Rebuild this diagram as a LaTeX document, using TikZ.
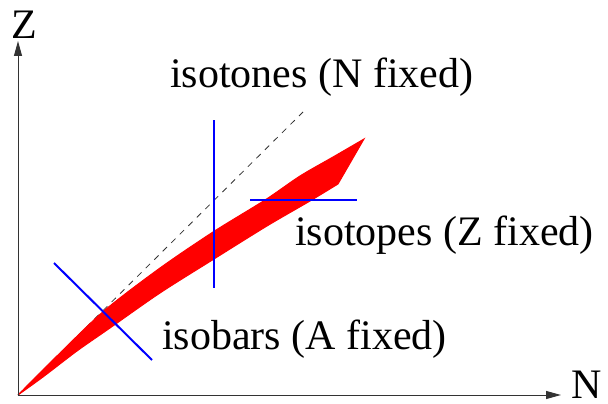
\documentclass[tikz,border=0pt]{standalone}
\usepackage{fontspec}
\setmainfont{Liberation Serif}
\usetikzlibrary{arrows.meta}
\begin{document}
\begin{tikzpicture}[x=1pt,y=-1pt,
  axis/.style={draw=black!80,line width=1pt,-{Triangle[length=15pt,width=8pt]}},
  label/.style={anchor=base west,inner sep=0pt,font=\fontsize{42}{48}\selectfont},
  fixline/.style={draw=blue,line width=2pt},
  nzline/.style={draw=black!80,line width=0.8pt,dash pattern=on 6pt off 6pt},
  band/.style={fill=red,draw=red,line width=1pt}]
\useasboundingbox (0,0) rectangle (608,404);
\coordinate (origin) at (18,395);
\coordinate (ztip) at (18,41);
\coordinate (ntip) at (561,395);
\coordinate (nzend) at (303,112);
% N = Z line
\draw[nzline] (origin) -- (nzend);
% red band
\fill[band] plot[smooth,tension=0.5] coordinates {(18,395) (60,353) (105,310) (160,268) (213,232) (265,200) (300,176) (333,157) (364,139)}
  -- (338,184)
  -- plot[smooth,tension=0.5] coordinates {(338,184) (310,201) (267,226) (214,259) (160,293) (110,328) (77,351) (43,377) (18,395)} -- cycle;
% axes
\draw[axis] (origin) -- (ztip);
\draw[axis] (origin) -- (ntip);
% fixed lines
\coordinate (isobarA) at (54,263);
\coordinate (isobarB) at (152,360);
\coordinate (isotoneA) at (214,120);
\coordinate (isotoneB) at (214,288);
\coordinate (isotopeA) at (250,200);
\coordinate (isotopeB) at (357,200);
\draw[fixline] (isobarA) -- (isobarB);
\draw[fixline] (isotoneA) -- (isotoneB);
\draw[fixline] (isotopeA) -- (isotopeB);
% labels
\node[label] (zlab) at (11,39) {Z};
\node[label] (nlab) at (571,398) {N};
\node[label] (isotones) at (170,88) {isotones (N fixed)};
\node[label] (isotopes) at (295,245) {isotopes (Z fixed)};
\node[label] (isobars) at (162,349) {isobars (A fixed)};
\end{tikzpicture}
\end{document}
